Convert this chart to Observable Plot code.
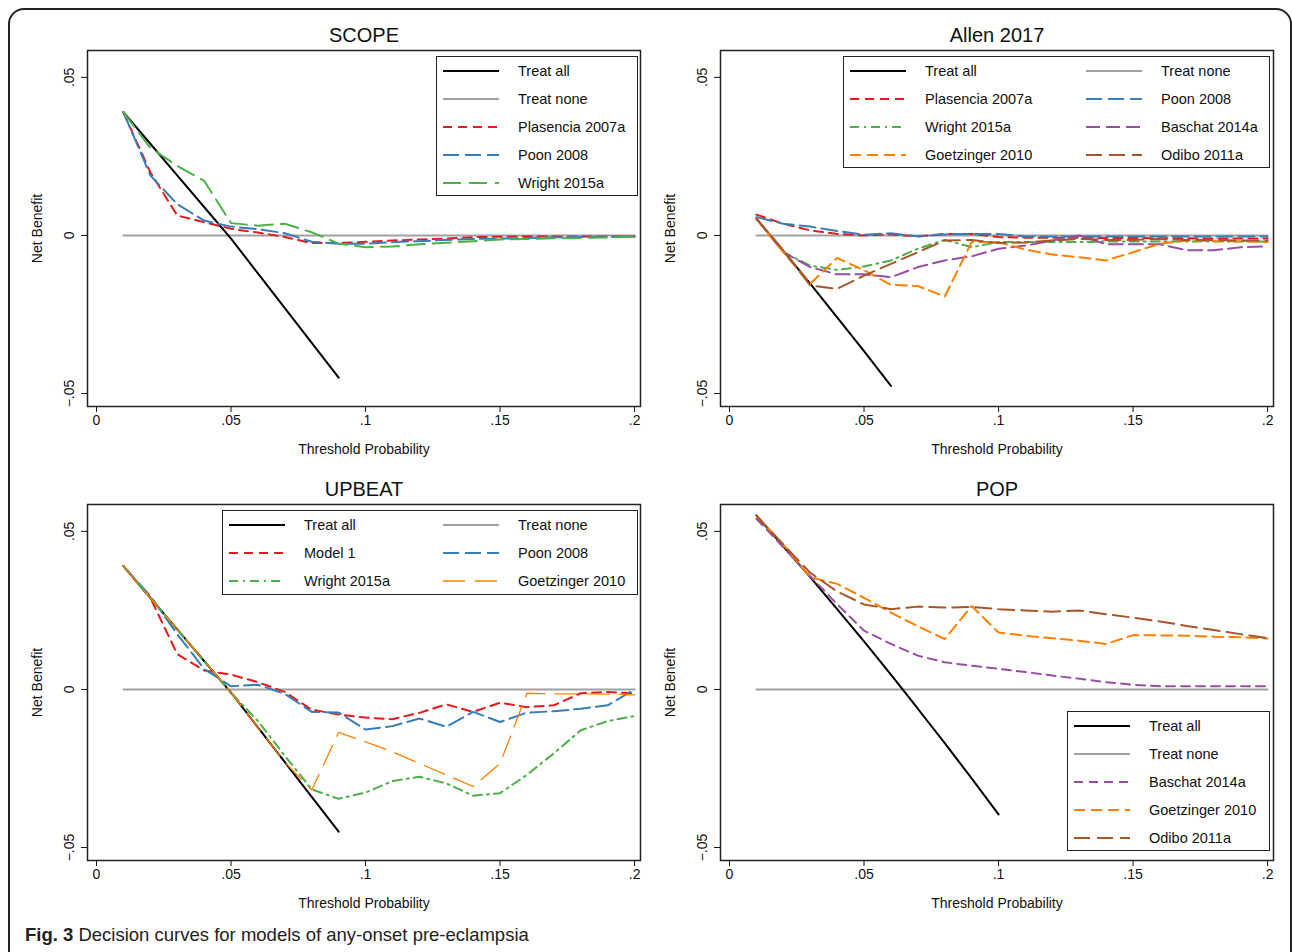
<!DOCTYPE html>
<html>
<head>
<meta charset="utf-8">
<script src="https://cdn.jsdelivr.net/npm/d3@7"></script>
<script src="https://cdn.jsdelivr.net/npm/@observablehq/plot@0.6"></script>
<style>
  body { margin: 0; background: #fff; font-family: "Liberation Sans", Arial, sans-serif; }
  #wrap { position: relative; width: 1292px; height: 952px; }
  #border { position: absolute; left: 8px; top: 8px; width: 1280px; height: 960px; border: 2px solid #222; border-radius: 16px; }
  .panel { position: absolute; }
  .panel svg { overflow: visible; }
  .legend { position: absolute; border: 1.5px solid #222; background: #fff; font-size: 14.5px; color: #111; }
  .legend .item { position: absolute; height: 28px; line-height: 28px; white-space: nowrap; }
  .legend svg { position: absolute; top: 0; }
  .legend span { position: absolute; }
  #caption { position: absolute; left: 25px; top: 924px; font-size: 18.5px; color: #222; }
  #caption b { color: #222; }
</style>
</head>
<body>
<div id="wrap">
  <div id="border"></div>
  <div id="caption"><b>Fig. 3</b> Decision curves for models of any-onset pre-eclampsia</div>
</div>
<script>
const thresholds = [0.01,0.02,0.03,0.04,0.05,0.06,0.07,0.08,0.09,0.10,0.11,0.12,0.13,0.14,0.15,0.16,0.17,0.18,0.19,0.20];

// SCOPE
const scopeTreatAll = [0.039,0.029,0.019,0.009,-0.001,-0.012,-0.023,-0.034,-0.045];
const scopePlasencia = [0.0389,0.020,0.0063,0.0042,0.0021,0.0009,-0.0005,-0.0024,-0.0024,-0.002,-0.0016,-0.0013,-0.001,-0.0005,-0.0004,-0.0003,-0.0003,-0.0003,-0.0003,-0.0003];
const scopePoon = [0.039,0.019,0.0099,0.0047,0.0028,0.002,0.0007,-0.002,-0.0026,-0.0026,-0.0021,-0.0018,-0.0014,-0.0011,-0.001,-0.0008,-0.0006,-0.0005,-0.0004,-0.0003];
const scopeWright = [0.039,0.0277,0.022,0.0173,0.0039,0.0031,0.0037,0.001,-0.0026,-0.0037,-0.0035,-0.0028,-0.0023,-0.0018,-0.0013,-0.0011,-0.0009,-0.0008,-0.0006,-0.0004];

// Allen 2017
const allenTreatAll = [0.0053,-0.0049,-0.0152,-0.0259,-0.0366,-0.0476];
const allenPlasencia = [0.0066,0.0037,0.0016,0.0005,0,0.0003,-0.0003,0.0005,0.0005,-0.0005,-0.0007,-0.0007,-0.0007,-0.0008,-0.0008,-0.0009,-0.0009,-0.001,-0.001,-0.001];
const allenPoon = [0.0058,0.0037,0.0028,0.0014,0.0002,0.0007,-0.0003,0.0003,0.0005,0.0005,-0.0003,-0.0003,-0.0003,-0.0003,-0.0003,-0.0003,-0.0003,-0.0003,-0.0003,-0.0003];
const allenWright = [0.0053,-0.0053,-0.0095,-0.0109,-0.0098,-0.0079,-0.0042,-0.0014,-0.0037,-0.0021,-0.0021,-0.0021,-0.0021,-0.0019,-0.0019,-0.0019,-0.0019,-0.0019,-0.0019,-0.0019];
const allenBaschat = [0.0053,-0.0053,-0.010,-0.0123,-0.0123,-0.0132,-0.010,-0.0079,-0.0066,-0.0042,-0.0032,-0.0016,0,-0.0028,-0.0028,-0.0028,-0.0047,-0.0047,-0.0037,-0.0034];
const allenGoetzinger = [0.0053,-0.0053,-0.0153,-0.0071,-0.011,-0.0156,-0.016,-0.0193,-0.0021,-0.0021,-0.0045,-0.006,-0.0069,-0.0079,-0.0053,-0.0026,-0.0016,-0.0018,-0.0019,-0.0021];
const allenOdibo = [0.0053,-0.0047,-0.0158,-0.0169,-0.0127,-0.009,-0.0053,-0.0016,-0.0014,-0.0024,-0.0022,-0.0016,-0.0011,-0.0014,-0.0014,-0.0011,-0.0014,-0.0014,-0.0016,-0.0016];

// UPBEAT
const upbeatTreatAll = [0.039,0.029,0.019,0.009,-0.001,-0.012,-0.023,-0.034,-0.045];
const upbeatModel1 = [0.039,0.029,0.0112,0.006,0.0047,0.0023,-0.0008,-0.0064,-0.0079,-0.0089,-0.0094,-0.0074,-0.0047,-0.0071,-0.0042,-0.0056,-0.005,-0.0012,-0.0008,-0.0012];
const upbeatPoon = [0.039,0.0296,0.0175,0.0065,0.001,0.0015,-0.0014,-0.0071,-0.0073,-0.0127,-0.0116,-0.0092,-0.0118,-0.0071,-0.0103,-0.0073,-0.0069,-0.0061,-0.005,0];
const upbeatWright = [0.039,0.029,0.019,0.009,-0.001,-0.010,-0.021,-0.0316,-0.0346,-0.0326,-0.029,-0.0276,-0.0297,-0.0336,-0.0328,-0.027,-0.0202,-0.0129,-0.010,-0.0084];
const upbeatGoetzinger = [0.039,0.029,0.019,0.009,-0.001,-0.012,-0.023,-0.0318,-0.0136,-0.0166,-0.0197,-0.0234,-0.027,-0.0307,-0.0234,-0.0012,-0.0014,-0.0014,-0.0015,-0.0017];

// POP
const popTreatAll = [0.055,0.0453,0.0355,0.0254,0.0152,0.0047,-0.0061,-0.017,-0.0281,-0.0395];
const popBaschat = [0.054,0.045,0.0358,0.027,0.0186,0.0144,0.0107,0.0086,0.0075,0.0065,0.0055,0.0044,0.0034,0.0023,0.0015,0.001,0.001,0.001,0.001,0.001];
const popGoetzinger = [0.055,0.0458,0.0355,0.0334,0.029,0.0243,0.020,0.0159,0.0264,0.018,0.017,0.0162,0.0154,0.0144,0.0172,0.0171,0.017,0.0167,0.0165,0.0161];
const popOdibo = [0.055,0.0458,0.0369,0.031,0.0269,0.0254,0.0262,0.0259,0.0261,0.0254,0.025,0.0246,0.025,0.0238,0.0227,0.0215,0.0201,0.0188,0.0175,0.0162];

const treatNone = thresholds.map(() => 0);

const S = {
  all: {color: "#000", dash: null, width: 2},
  none: {color: "#a0a0a0", dash: null, width: 2},
  red: {color: "#e41a1c", dash: "9,6", width: 2},
  blue: {color: "#377eb8", dash: "16,6", width: 2},
  greenLong: {color: "#4daf4a", dash: "18,8", width: 2},
  greenDot: {color: "#4daf4a", dash: "9,5,2,5", width: 2},
  purple: {color: "#984ea3", dash: "14,6", width: 2},
  purpleShort: {color: "#984ea3", dash: "9,6", width: 2},
  orange: {color: "#ff7f00", dash: "11,6", width: 2},
  orangeThin: {color: "#ff7f00", dash: "22,10", width: 1.3},
  brown: {color: "#a65628", dash: "16,7", width: 2}
};

const fmt = d => d === 0 ? "0" : d3.format(".2~f")(d).replace("0.", ".");

function panel(title, series, left, top) {
  const rows = [];
  series.forEach((s, k) => s.values.forEach((v, i) => rows.push({k, x: thresholds[i], y: v})));
  const marks = [Plot.frame({stroke: "#222", strokeWidth: 1.5})];
  series.forEach((s, k) => {
    marks.push(Plot.line(rows.filter(r => r.k === k), {
      x: "x", y: "y", stroke: s.style.color, strokeWidth: s.style.width,
      strokeDasharray: s.style.dash, strokeLinejoin: "miter"
    }));
  });
  marks.push(Plot.text([title], {frameAnchor: "top", dy: -23, fontSize: 20, fill: "#111"}));
  const chart = Plot.plot({
    width: 646, height: 454,
    marginLeft: 87, marginRight: 6, marginTop: 50, marginBottom: 48,
    style: {fontFamily: "Liberation Sans, Arial, sans-serif", fontSize: "14px", color: "#111", overflow: "visible"},
    x: {domain: [-0.00335, 0.2022], ticks: [0, 0.05, 0.1, 0.15, 0.2], tickFormat: fmt,
        label: "Threshold Probability", labelAnchor: "center", labelArrow: "none", labelOffset: 47, tickSize: 6, tickPadding: 3},
    y: {domain: [-0.0541, 0.0585], ticks: [-0.05, 0, 0.05], tickFormat: fmt, tickRotate: -90,
        label: "Net Benefit", labelAnchor: "center", labelArrow: "none", labelOffset: 55, tickSize: 6, tickPadding: 8},
    marks
  });
  const div = document.createElement("div");
  div.className = "panel";
  div.style.left = left + "px";
  div.style.top = top + "px";
  div.appendChild(chart);
  document.getElementById("wrap").appendChild(div);
}

function legend(items, box, cols) {
  const el = document.createElement("div");
  el.className = "legend";
  Object.assign(el.style, {left: box.x + "px", top: box.y + "px", width: box.w + "px", height: box.h + "px"});
  items.forEach((it, i) => {
    const c = i % cols, r = Math.floor(i / cols);
    const item = document.createElement("div");
    item.className = "item";
    item.style.left = (6 + c * box.colW) + "px";
    item.style.top = (r * 28) + "px";
    const st = it.style;
    item.innerHTML = `<svg width="60" height="28"><line x1="0" x2="56" y1="14" y2="14" stroke="${st.color}" stroke-width="${st.width}" ${st.dash ? `stroke-dasharray="${st.dash}"` : ""}/></svg><span style="left:75px">${it.name}</span>`;
    el.appendChild(item);
  });
  document.getElementById("wrap").appendChild(el);
}

const scope = [
  {name: "Treat none", values: treatNone, style: S.none},
  {name: "Treat all", values: scopeTreatAll, style: S.all},
  {name: "Plasencia 2007a", values: scopePlasencia, style: S.red},
  {name: "Poon 2008", values: scopePoon, style: S.blue},
  {name: "Wright 2015a", values: scopeWright, style: S.greenLong}
];
const allen = [
  {name: "Treat none", values: treatNone, style: S.none},
  {name: "Treat all", values: allenTreatAll, style: S.all},
  {name: "Plasencia 2007a", values: allenPlasencia, style: S.red},
  {name: "Poon 2008", values: allenPoon, style: S.blue},
  {name: "Wright 2015a", values: allenWright, style: S.greenDot},
  {name: "Baschat 2014a", values: allenBaschat, style: S.purple},
  {name: "Goetzinger 2010", values: allenGoetzinger, style: S.orange},
  {name: "Odibo 2011a", values: allenOdibo, style: S.brown}
];
const upbeat = [
  {name: "Treat none", values: treatNone, style: S.none},
  {name: "Treat all", values: upbeatTreatAll, style: S.all},
  {name: "Model 1", values: upbeatModel1, style: S.red},
  {name: "Poon 2008", values: upbeatPoon, style: S.blue},
  {name: "Wright 2015a", values: upbeatWright, style: S.greenDot},
  {name: "Goetzinger 2010", values: upbeatGoetzinger, style: S.orangeThin}
];
const pop = [
  {name: "Treat none", values: treatNone, style: S.none},
  {name: "Treat all", values: popTreatAll, style: S.all},
  {name: "Baschat 2014a", values: popBaschat, style: S.purpleShort},
  {name: "Goetzinger 2010", values: popGoetzinger, style: S.orange},
  {name: "Odibo 2011a", values: popOdibo, style: S.brown}
];

panel("SCOPE", scope, 0, 0);
panel("Allen 2017", allen, 633, 0);
panel("UPBEAT", upbeat, 0, 454);
panel("POP", pop, 633, 454);

const order = (arr, names) => names.map(n => arr.find(s => s.name === n));
legend(order(scope, ["Treat all", "Treat none", "Plasencia 2007a", "Poon 2008", "Wright 2015a"]),
  {x: 436, y: 56, w: 200, h: 138, colW: 0}, 1);
legend(order(allen, ["Treat all", "Treat none", "Plasencia 2007a", "Poon 2008", "Wright 2015a", "Baschat 2014a", "Goetzinger 2010", "Odibo 2011a"]),
  {x: 843, y: 56, w: 425, h: 110, colW: 236}, 2);
legend(order(upbeat, ["Treat all", "Treat none", "Model 1", "Poon 2008", "Wright 2015a", "Goetzinger 2010"]),
  {x: 222, y: 510, w: 414, h: 83, colW: 214}, 2);
legend(order(pop, ["Treat all", "Treat none", "Baschat 2014a", "Goetzinger 2010", "Odibo 2011a"]),
  {x: 1067, y: 711, w: 201, h: 138, colW: 0}, 1);
</script>
</body>
</html>
